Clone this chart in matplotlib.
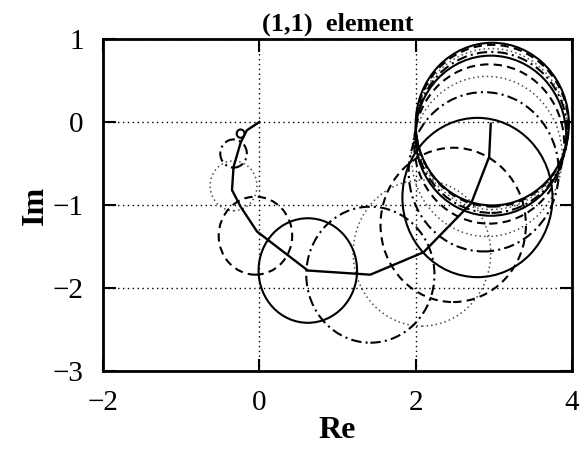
import matplotlib.pyplot as plt

# Nyquist curve of the (1,1) element (high frequency -> low frequency)
curve_re = [0.0, -0.16, -0.24, -0.33, -0.35, -0.24, -0.03, 0.62, 1.42, 2.10, 2.71, 2.94, 2.96]
curve_im = [0.0, -0.10, -0.25, -0.54, -0.82, -1.02, -1.32, -1.79, -1.84, -1.57, -0.98, -0.42, -0.02]

# Gershgorin circles: centres and radii
circ_re = [-0.24, -0.33, -0.33, -0.05, 0.62, 1.42, 2.08, 2.48, 2.79, 2.87, 2.91, 2.94, 2.96, 2.97, 2.97, 2.98, 2.98]
circ_im = [-0.14, -0.38, -0.77, -1.37, -1.79, -1.84, -1.58, -1.24, -0.91, -0.60, -0.415, -0.265, -0.165, -0.125, -0.085, -0.045, -0.025]
circ_r = [0.05, 0.17, 0.30, 0.47, 0.63, 0.82, 0.88, 0.93, 0.96, 0.96, 0.965, 0.96, 0.965, 0.97, 0.97, 0.975, 0.98]

styles = ['-', (0, (5, 2, 1, 2)), (0, (1, 2)), (0, (4, 2.5))]

plt.rcParams['font.family'] = 'Liberation Serif'

fig = plt.figure(figsize=(5.87, 4.54), dpi=100)
ax = fig.add_axes([0.1755, 0.183, 0.799, 0.731])

for i in range(len(circ_r)):
    c = plt.Circle((circ_re[i], circ_im[i]), circ_r[i], fill=False, color='black',
                   lw=1.5 if i % 4 != 2 else 1.1, ls=styles[i % 4],
                   alpha=1.0 if i % 4 != 2 else 0.7)
    ax.add_patch(c)

ax.plot(curve_re, curve_im, color='black', lw=1.7)

ax.set_xlim(-2, 4)
ax.set_ylim(-3, 1)
ax.set_xticks([-2, 0, 2, 4])
ax.set_yticks([-3, -2, -1, 0, 1])
ax.grid(True, color='black', ls=(0, (1, 2.5)), lw=1.0)
ax.tick_params(direction='in', top=True, right=True, length=9, width=1.5,
               labelsize=21)
ax.tick_params(axis='x', pad=14)
ax.tick_params(axis='y', pad=14)
for s in ax.spines.values():
    s.set_linewidth(2)

ax.set_title('(1,1)  element', fontsize=19, fontweight='bold', pad=6)
ax.set_xlabel('Re', fontsize=23, fontweight='bold', labelpad=0)
ax.set_ylabel('Im', fontsize=23, fontweight='bold', labelpad=2)

plt.savefig('out.png', dpi=100)
